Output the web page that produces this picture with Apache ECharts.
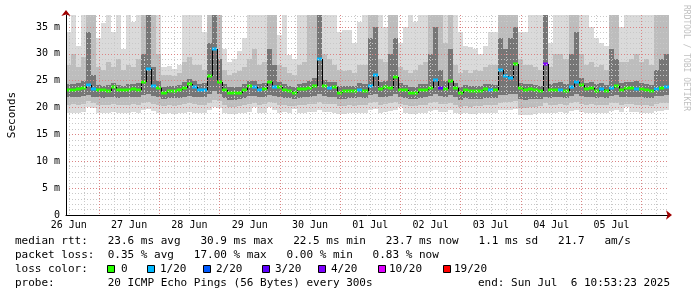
<!DOCTYPE html>
<html><head><meta charset="utf-8">
<script src="https://cdn.jsdelivr.net/npm/echarts@6/dist/echarts.min.js"></script>
<style>html,body{margin:0;padding:0;background:#fff}#c{width:697px;height:297px}</style>
</head><body><div id="c"></div>
<script>
// time axis: hours since 26 Jun 00:00
const startHour = 10 + 53/60 + 23/3600;   // 26 Jun 10:53:23
const spanHours = 240;
const binHours = 2;
const dayLabels = ['26 Jun','27 Jun','28 Jun','29 Jun','30 Jun','01 Jul','02 Jul','03 Jul','04 Jul','05 Jul'];
const dayNoonHours = [12,36,60,84,108,132,156,180,204,228];
const midnightHours = [24,48,72,96,120,144,168,192,216,240];
const yMajorTicks = [0,5,10,15,20,25,30,35];
const yMax = 37.24;

// median rtt per bin (ms)
const median = [23.3,23.3,23.4,23.6,24.2,23.5,23.3,23.2,23.1,23.9,
23.2,23.3,23.2,23.4,23.3,24.8,27.2,24.1,23.7,22.7,
23.0,23.0,23.2,23.6,24.3,23.8,23.3,23.3,25.9,30.9,
24.8,23.3,22.8,22.8,22.8,23.3,24.0,23.8,23.3,23.5,
24.8,23.9,23.9,23.3,23.1,22.8,23.4,23.4,23.7,24.1,
29.0,24.0,23.6,23.9,22.8,23.1,23.1,23.1,23.3,23.0,
24.0,26.0,23.5,23.9,23.6,25.7,23.3,23.2,22.8,22.8,
23.3,23.3,23.6,25.2,23.6,23.5,25.0,23.7,22.7,23.3,
23.0,23.0,23.0,23.5,23.3,23.2,27.0,25.9,25.6,28.2,
23.6,23.3,23.4,23.2,23.0,28.2,23.3,23.3,23.3,23.1,
23.8,24.7,24.2,23.4,23.6,23.1,23.4,23.0,23.6,24.0,
23.3,23.7,23.7,23.4,23.4,23.2,23.0,23.4,23.6,23.9];

// lost pings out of 20 per bin
const loss = [0,0,0,0,1,1,0,0,0,0,
0,0,0,0,0,0,1,1,0,0,
0,0,0,0,0,1,1,1,0,1,
0,0,0,0,0,0,0,1,1,0,
0,1,0,0,0,0,0,0,0,0,
1,0,1,0,0,0,0,0,1,0,
1,1,0,0,0,0,0,0,0,0,
0,0,0,1,3,0,0,0,0,0,
0,0,0,0,1,0,1,1,1,0,
0,0,0,0,0,4,0,0,1,0,
1,1,0,0,0,0,1,0,1,0,
0,0,0,1,0,0,0,1,0,1];

// smoke bands (ms)
const smokeMin = [19.0,18.9,19.0,19.1,20.2,20.0,19.0,18.9,19.0,19.2,
19.0,18.9,19.0,19.1,18.9,19.6,19.8,19.4,19.0,18.8,
18.9,18.8,18.9,19.0,19.2,19.0,18.9,19.0,19.6,20.2,
20.0,19.0,18.8,18.8,18.9,19.0,19.2,20.1,19.0,19.0,
20.1,19.6,19.0,19.1,18.9,19.8,19.0,19.0,19.1,19.2,
19.5,19.2,19.1,19.0,18.8,18.8,18.9,18.9,19.0,19.0,
19.6,19.8,19.0,19.1,19.4,19.6,20.2,19.0,18.8,18.8,
18.9,19.0,19.4,19.6,19.2,19.1,19.5,19.0,18.8,18.9,
18.8,18.8,18.9,19.0,19.0,19.0,19.5,19.6,19.6,19.8,
18.6,18.6,18.7,18.8,18.9,19.0,19.0,19.0,19.1,19.0,
19.4,19.6,19.2,19.0,19.0,18.9,19.0,18.9,19.4,19.5,
19.1,20.2,19.2,19.1,19.0,18.9,18.9,19.3,19.4,19.5];
const smokeMidLo = [20.5,20.6,20.4,20.6,21.2,20.9,20.5,20.4,20.5,20.7,
20.5,20.4,20.5,20.6,20.5,20.8,21.0,20.7,20.5,20.3,
20.4,20.3,20.5,20.6,20.8,20.6,20.4,20.5,20.9,21.5,
21.2,20.4,20.2,20.2,20.3,20.5,20.7,20.9,20.5,20.6,
21.0,20.8,20.5,20.4,20.3,20.3,20.5,20.5,20.6,20.7,
21.0,20.7,20.6,20.6,20.3,20.3,20.4,20.3,20.5,20.4,
20.9,21.0,20.5,20.6,20.8,21.0,20.6,20.4,20.3,20.3,
20.4,20.5,20.8,21.0,20.7,20.6,20.9,20.5,20.2,20.3,
20.2,20.3,20.3,20.5,20.4,20.4,20.9,21.0,21.0,21.2,
20.0,20.0,20.1,20.2,20.3,20.8,20.4,20.5,20.6,20.5,
20.9,21.0,20.7,20.5,20.6,20.4,20.5,20.4,20.8,20.9,
20.5,20.6,20.6,20.5,20.5,20.4,20.3,20.7,20.8,20.9];
const smokeInLo = [21.9,22.0,21.9,22.1,22.3,22.0,21.9,21.8,21.9,22.0,
21.8,21.9,22.0,21.9,22.0,22.4,22.6,22.2,21.9,21.6,
21.7,21.7,21.8,22.0,22.2,22.0,21.9,21.9,22.5,23.0,
22.5,21.8,21.5,21.5,21.6,21.8,22.1,22.1,21.9,22.0,
22.3,22.1,21.9,21.8,21.7,21.6,21.8,21.9,22.0,22.1,
22.5,22.1,22.0,22.0,21.6,21.6,21.7,21.7,21.9,21.8,
22.3,22.5,21.9,22.0,22.2,22.5,21.9,21.8,21.6,21.6,
21.8,21.9,22.2,22.5,22.1,22.0,22.3,21.9,21.5,21.7,
21.6,21.6,21.6,21.8,21.8,21.7,22.3,22.4,22.5,22.6,
21.6,21.5,21.6,21.6,21.6,22.0,21.8,21.9,22.0,21.8,
22.2,22.5,22.1,21.9,22.0,21.8,21.9,21.7,22.2,22.3,
21.9,22.0,22.0,21.9,21.9,21.8,21.7,22.1,22.2,22.3];
const smokeInHi = [24.3,24.4,24.5,25.0,34.0,26.0,24.2,24.1,24.2,24.6,
24.2,24.1,24.3,24.4,24.5,30.0,37.2,27.5,25.0,23.8,
24.0,24.0,24.2,24.8,25.3,24.9,24.4,24.5,32.0,37.2,
29.0,24.3,23.9,23.9,23.9,24.3,25.0,25.0,24.4,24.6,
31.0,28.0,24.8,24.3,24.0,23.9,24.4,24.5,25.0,25.5,
37.2,25.2,24.8,24.8,24.0,24.0,24.1,24.0,24.5,24.3,
33.0,35.0,24.8,25.0,30.0,33.0,24.5,24.2,23.9,23.9,
24.3,24.4,30.0,35.0,27.0,25.0,31.0,24.5,23.8,24.2,
24.0,24.0,24.0,24.4,24.3,24.2,33.0,31.0,33.0,35.0,
24.5,24.3,24.3,24.2,24.0,37.2,24.3,24.6,24.8,24.4,
30.0,34.0,25.5,24.6,24.8,24.3,24.5,24.2,31.0,29.0,
24.6,24.8,24.8,25.0,24.6,24.3,24.2,27.0,29.0,30.0];
const smokeMidHi = [28.0,30.0,27.5,29.5,37.2,37.2,27.5,27.0,28.5,27.5,
29.0,27.0,28.0,27.5,29.0,37.2,37.2,37.2,30.0,26.0,
26.0,25.8,26.5,28.5,29.5,28.0,28.0,27.0,37.2,37.2,
37.2,27.0,26.0,26.5,26.8,27.5,29.0,31.0,28.0,28.5,
37.2,37.2,28.0,27.5,26.5,26.0,28.0,28.5,37.2,37.2,
37.2,30.0,29.0,28.0,27.0,26.8,27.0,26.5,28.0,28.0,
37.2,37.2,29.0,28.5,37.2,37.2,27.5,27.0,26.5,27.0,
28.0,28.5,37.2,37.2,37.2,32.0,37.2,28.0,26.5,27.0,
26.5,27.0,26.8,27.5,28.0,28.0,37.2,37.2,37.2,37.2,
29.0,28.0,28.0,27.5,27.0,37.2,27.5,30.0,30.0,29.0,
37.2,37.2,30.0,28.0,28.5,27.5,28.0,27.0,37.2,37.2,
28.5,28.5,29.0,30.0,28.5,29.0,28.0,37.2,37.2,37.2];
const smokeMax = [34.1,37.2,31.5,37.2,37.2,37.2,33.0,35.7,37.2,34.0,
37.2,31.0,37.2,36.0,37.2,37.2,37.2,37.2,37.2,27.5,
27.8,27.2,28.0,37.2,37.2,37.2,37.2,34.0,37.2,37.2,
37.2,31.0,28.5,29.0,30.5,33.0,37.2,37.2,37.2,37.2,
37.2,37.2,33.5,37.2,29.8,29.0,37.2,37.2,37.2,37.2,
37.2,37.2,37.2,37.2,34.0,34.5,34.5,32.0,36.0,37.2,
37.2,37.2,37.2,35.0,37.2,37.2,32.0,35.0,37.2,36.0,
37.2,37.2,37.2,37.2,37.2,37.2,37.2,37.2,34.0,31.5,
31.3,31.0,30.0,31.5,34.0,34.0,37.2,37.2,37.2,37.2,
34.0,34.0,37.2,37.2,37.2,37.2,32.0,37.2,37.2,37.2,
37.2,37.2,37.2,37.2,35.0,33.0,32.0,31.5,37.2,37.2,
35.0,37.2,37.2,37.2,37.2,37.2,37.2,37.2,37.2,37.2];

const lossLevels = [0,1,2,3,4,10,19];
const lossColors = ['#26ff00','#00b8ff','#0059ff','#5e00ff','#7e00ff','#dd00ff','#ff0000'];
const lossLabels = ['0','1/20','2/20','3/20','4/20','10/20','19/20'];
const smokeColors = ['#dadada','#bdbdbd','#767676'];

function lossColor(n){ let c = lossColors[0]; lossLevels.forEach((l,j)=>{ if(n>=l) c = lossColors[j]; }); return c; }

const sixHourTicks = []; for (let h = 12; h <= startHour + spanHours; h += 6) sixHourTicks.push(h);
const yMinorTicks = []; for (let v = 1; v < yMax; v += 1) yMinorTicks.push(v);

const binData = median.map((m,i)=>[startHour + (i+0.5)*binHours, m, i]);

function binEdges(i){
  const x0 = startHour + i*binHours, x1 = x0 + binHours;
  return [x0, x1];
}
function smokeRender(params, api){
  const i = api.value(2);
  const [x0,x1] = binEdges(i);
  const bands = [[smokeMin[i],smokeMax[i]],[smokeMidLo[i],smokeMidHi[i]],[smokeInLo[i],smokeInHi[i]]];
  const children = bands.map((b,j)=>{
    const p0 = api.coord([x0,b[1]]), p1 = api.coord([x1,b[0]]);
    const xa = Math.round(p0[0]), xb = Math.round(p1[0]);
    const ya = Math.round(p0[1]), yb = Math.round(p1[1]);
    return {type:'rect', shape:{x:xa,y:ya,width:xb-xa,height:yb-ya}, style:{fill:smokeColors[j]}};
  });
  return {type:'group', children};
}
function medianRender(params, api){
  const i = api.value(2);
  const [x0,x1] = binEdges(i);
  const p0 = api.coord([x0,median[i]]), p1 = api.coord([x1,median[i]]);
  const xa = Math.round(p0[0]), xb = Math.round(p1[0]);
  const yc = Math.round(p0[1]);
  const children = [];
  if (i > 0) {
    const pp = api.coord([x0, median[i-1]]);
    children.push({type:'line', shape:{x1:xa+0.5,y1:Math.round(pp[1]),x2:xa+0.5,y2:yc}, style:{stroke:'#000',lineWidth:1}});
  }
  children.push({type:'rect', shape:{x:xa,y:yc-1.5,width:xb-xa,height:3}, style:{fill:lossColor(loss[i])}});
  return {type:'group', children};
}

const mono = '"DejaVu Sans Mono", monospace';
const xCommon = {type:'value', min:startHour, max:startHour+spanHours, gridIndex:0, position:'bottom'};
const yCommon = {type:'value', min:0, max:yMax, gridIndex:0, position:'left'};

const graphic = [];
function txt(x,y,s,extra){ graphic.push(Object.assign({type:'text', x, y, style:{text:s, font:'11px '+mono, fill:'#000', textVerticalAlign:'middle'}}, extra||{})); }
txt(15,241,'median rtt:   23.6 ms avg   30.9 ms max   22.5 ms min   23.7 ms now   1.1 ms sd   21.7   am/s');
txt(15,255,'packet loss:  0.35 % avg   17.00 % max   0.00 % min   0.83 % now');
txt(15,269,'loss color:');
const boxX = [107,147,203,262,318,378,443];
const lblX = [121,160,216,275,331,389,454];
lossLabels.forEach((l,j)=>{
  graphic.push({type:'rect', shape:{x:boxX[j]+0.5,y:265.5,width:7,height:7}, style:{fill:lossColors[j], stroke:'#000', lineWidth:1}});
  txt(lblX[j],269,l);
});
txt(15,283,'probe:        20 ICMP Echo Pings (56 Bytes) every 300s');
txt(478,283,'end: Sun Jul  6 10:53:23 2025');
graphic.push({type:'text', x:686, y:5, rotation:-Math.PI/2, style:{text:'RRDTOOL / TOBI OETIKER', font:'8px '+mono, fill:'#c0c0c0', textVerticalAlign:'middle'}});

const option = {
  animation:false,
  backgroundColor:'#fff',
  grid:{left:66, top:15, width:603, height:200, outerBoundsMode:'none', containLabel:false},
  xAxis:[
    Object.assign({}, xCommon, {z:6, axisLine:{show:true, onZero:false, lineStyle:{color:'#000',width:1}},
      axisTick:{show:false, customValues:midnightHours},
      axisLabel:{customValues:dayNoonHours, margin:5, color:'#000', fontFamily:mono, fontSize:10,
        formatter:(v)=>dayLabels[dayNoonHours.indexOf(Math.round(v))] || ''},
      splitLine:{show:true, lineStyle:{color:'rgba(225,110,110,0.75)', type:[1,2], width:1}}}),
    Object.assign({}, xCommon, {z:5, axisLine:{show:false}, axisLabel:{show:false},
      axisTick:{show:false, customValues:sixHourTicks},
      splitLine:{show:true, lineStyle:{color:'#c8c8c8', type:[1,2], width:1}}}),
    Object.assign({}, xCommon, {z:7, axisLine:{show:true, onZero:false, symbol:['none','arrow'], symbolSize:[7,6], symbolOffset:[0,3], lineStyle:{color:'#a00000', width:0}},
      axisLabel:{show:false}, axisTick:{show:false}, splitLine:{show:false}})
  ],
  yAxis:[
    Object.assign({}, yCommon, {z:6, axisLine:{show:true, onZero:false, lineStyle:{color:'#000',width:1}},
      axisTick:{show:false, customValues:yMajorTicks},
      axisLabel:{customValues:yMajorTicks, margin:6, color:'#000', fontFamily:mono, fontSize:10,
        formatter:(v)=> v===0 ? '0' : v+' m'},
      splitLine:{show:true, lineStyle:{color:'rgba(225,110,110,0.75)', type:[1,2], width:1}},
      name:'Seconds', nameLocation:'middle', nameGap:48, nameRotate:90,
      nameTextStyle:{fontFamily:mono, fontSize:11, color:'#000'}}),
    Object.assign({}, yCommon, {z:5, axisLine:{show:false}, axisLabel:{show:false},
      axisTick:{show:false, customValues:yMinorTicks},
      splitLine:{show:true, lineStyle:{color:'#c8c8c8', type:[1,2], width:1}}}),
    Object.assign({}, yCommon, {z:7, axisLine:{show:true, onZero:false, symbol:['none','arrow'], symbolSize:[7,6], symbolOffset:[0,5], lineStyle:{color:'#a00000', width:0}},
      axisLabel:{show:false}, axisTick:{show:false}, splitLine:{show:false}})
  ],
  series:[
    {type:'custom', name:'smoke', xAxisIndex:0, yAxisIndex:0, z:1, clip:true, data:binData, encode:{x:0,y:1}, renderItem:smokeRender},
    {type:'custom', name:'median', xAxisIndex:0, yAxisIndex:0, z:2, clip:true, data:binData, encode:{x:0,y:1}, renderItem:medianRender}
  ],
  graphic
};
const chart = echarts.init(document.getElementById('c'), null, {renderer:'canvas'});
chart.setOption(option);
</script></body></html>
